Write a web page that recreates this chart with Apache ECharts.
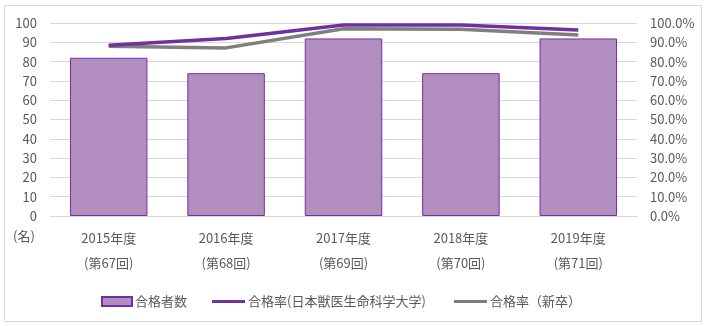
<!DOCTYPE html>
<html>
<head>
<meta charset="utf-8">
<script src="https://cdn.jsdelivr.net/npm/echarts@6/dist/echarts.min.js"></script>
<style>
  html, body { margin: 0; padding: 0; background: #fff; }
  #chart { width: 707px; height: 326px; }
</style>
</head>
<body>
<div id="chart"></div>
<script>
// Fiscal years and exam rounds
const years = ['2015年度', '2016年度', '2017年度', '2018年度', '2019年度'];
const rounds = ['(第67回)', '(第68回)', '(第69回)', '(第70回)', '(第71回)'];

// Number of successful candidates (persons)
const passCount = [82, 74, 92, 74, 92];
// Pass rate, university graduates (%)
const passRateUniv = [88.5, 92.0, 99.0, 99.0, 96.4];
// Pass rate, new graduates nationwide (%)
const passRateNew = [88.0, 87.1, 97.0, 96.8, 93.8];

const leftTicks = { min: 0, max: 100, interval: 10 };
const rightTicks = { min: 0, max: 100, interval: 10 };

const FONT = '"Noto Sans CJK JP", "Noto Sans", sans-serif';
const TXT = '#595959';
const PURPLE = '#7030A0';
const BAR_FILL = '#B28DC0';
const GRAY = '#7F7F7F';

const categories = years.map((y, i) => y + '\n' + rounds[i]);

const chart = echarts.init(document.getElementById('chart'));
chart.setOption({
  animation: false,
  textStyle: { fontFamily: FONT },
  grid: { left: 50, right: 70, top: 23, bottom: 110 },
  graphic: [
    {
      type: 'rect',
      shape: { x: 4.5, y: 5.5, width: 697, height: 316 },
      style: { fill: 'none', stroke: '#D9D9D9', lineWidth: 1 },
      silent: true
    },
    {
      type: 'text',
      left: 13, top: 230,
      style: { text: '(名)', font: '13px ' + FONT, fill: TXT }
    }
  ],
  legend: [
    {
      data: ['合格者数'],
      left: 96, top: 290,
      icon: 'rect', itemWidth: 30, itemHeight: 9, itemGap: 4,
      textStyle: { color: TXT, fontSize: 13, fontFamily: FONT, padding: [0, 0, 0, -2] }
    },
    {
      data: ['合格率(日本獣医生命科学大学)'],
      left: 207, top: 290,
      icon: 'rect', itemWidth: 33, itemHeight: 3,
      textStyle: { color: TXT, fontSize: 13, fontFamily: FONT, padding: [0, 0, 0, -2] }
    },
    {
      data: ['合格率（新卒）'],
      left: 449, top: 290,
      icon: 'rect', itemWidth: 33, itemHeight: 3,
      textStyle: { color: TXT, fontSize: 13, fontFamily: FONT, padding: [0, 0, 0, -2] }
    }
  ],
  xAxis: {
    type: 'category',
    data: categories,
    axisLine: { lineStyle: { color: '#D9D9D9', width: 1 } },
    axisTick: { show: false },
    axisLabel: { color: TXT, fontSize: 13, lineHeight: 25, margin: 10, fontFamily: FONT }
  },
  yAxis: [
    {
      type: 'value',
      min: leftTicks.min, max: leftTicks.max, interval: leftTicks.interval,
      axisLine: { show: false },
      axisTick: { show: false },
      splitLine: { lineStyle: { color: '#D9D9D9', width: 1 } },
      axisLabel: { color: TXT, fontSize: 13, margin: 13, fontFamily: FONT }
    },
    {
      type: 'value',
      min: rightTicks.min, max: rightTicks.max, interval: rightTicks.interval,
      axisLine: { show: false },
      axisTick: { show: false },
      splitLine: { show: false },
      axisLabel: {
        color: TXT, fontSize: 13, margin: 13, fontFamily: FONT,
        formatter: v => v.toFixed(1) + '%'
      }
    }
  ],
  series: [
    {
      name: '合格者数',
      type: 'bar',
      data: passCount,
      barWidth: '66%',
      itemStyle: { color: BAR_FILL, borderColor: PURPLE, borderWidth: 1 }
    },
    {
      name: '合格率（新卒）',
      type: 'line',
      yAxisIndex: 1,
      data: passRateNew,
      symbol: 'none',
      z: 3,
      lineStyle: { color: GRAY, width: 3.5 },
      itemStyle: { color: GRAY }
    },
    {
      name: '合格率(日本獣医生命科学大学)',
      type: 'line',
      yAxisIndex: 1,
      data: passRateUniv,
      symbol: 'none',
      z: 4,
      lineStyle: { color: PURPLE, width: 3.5 },
      itemStyle: { color: PURPLE }
    }
  ]
});
</script>
</body>
</html>
